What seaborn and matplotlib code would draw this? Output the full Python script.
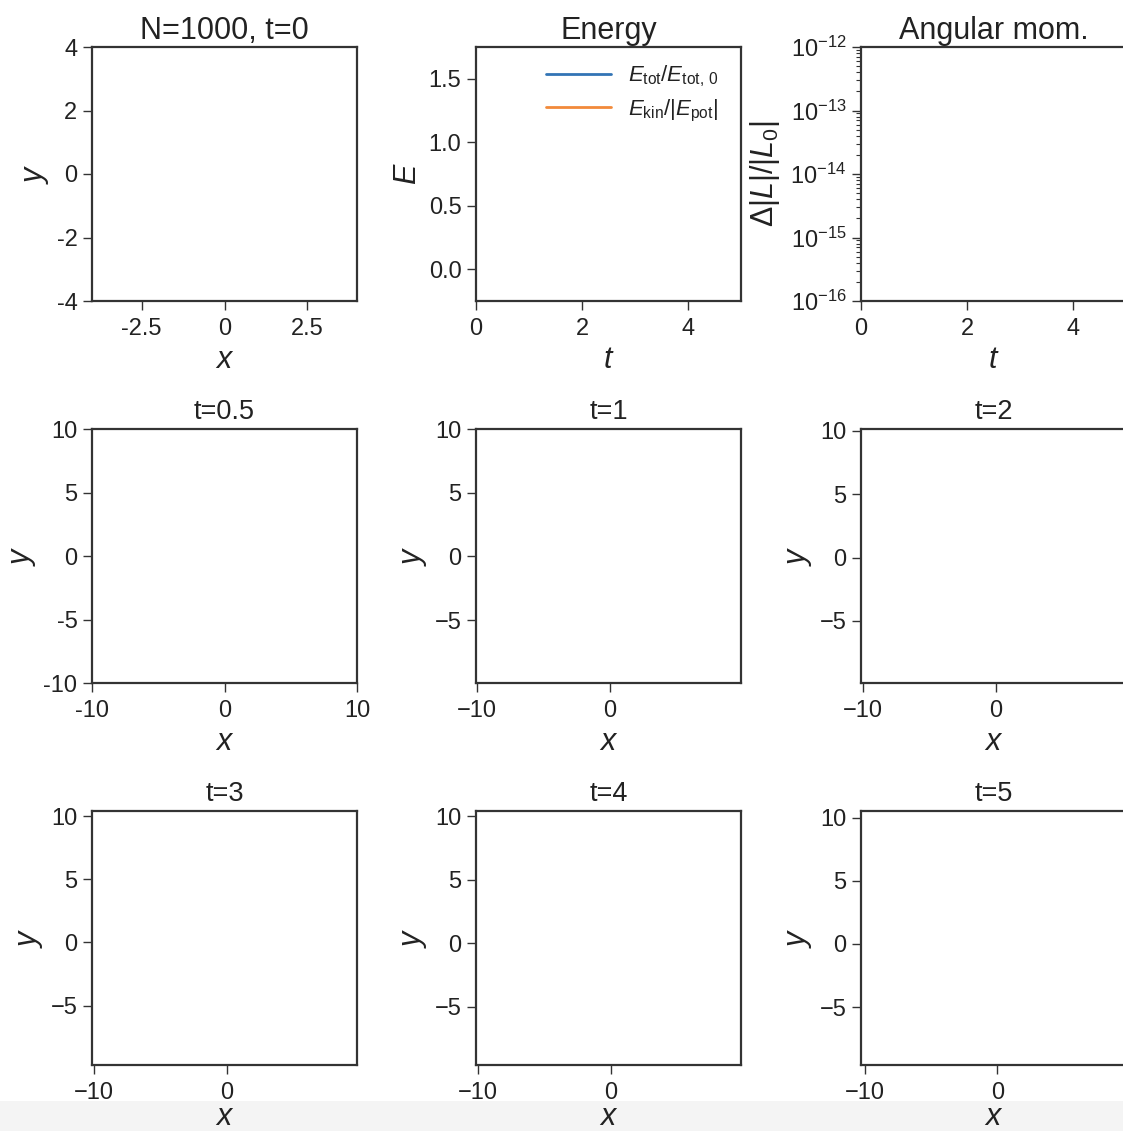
import matplotlib
matplotlib.use("Agg")
import matplotlib.pyplot as plt
from matplotlib.ticker import (MultipleLocator, FixedLocator, FixedFormatter,
                               LogFormatterSciNotation, NullFormatter)
from matplotlib.patches import Rectangle
import seaborn as sns

# panel titles
titulos = ["N=1000, t=0", "Energy", "Angular mom.",
           "t=0.5", "t=1", "t=2",
           "t=3", "t=4", "t=5"]

# energy curves (nothing visible in the picture)
t_energia = []
e_tot = []
e_kin = []
leg_energia = [r"$E_{\rm tot}/E_{\rm tot,\,0}$", r"$E_{\rm kin}/|E_{\rm pot}|$"]
cores = ["#3274b5", "#f28a3a"]

# axis limits
lim_x = [(-4, 4), (0, 5), (0, 5),
         (-10, 10), (-10.1, 9.85), (-10.15, 9.8),
         (-10.15, 9.8), (-10.15, 9.75), (-10.3, 9.7)]
lim_y = [(-4, 4), (-0.25, 1.75), (1e-16, 1e-12),
         (-10, 10), (-9.95, 10.02), (-9.9, 10.15),
         (-9.7, 10.4), (-9.6, 10.4), (-9.6, 10.55)]

# first column labels use a plain hyphen
ticks_x0 = [-2.5, 0, 2.5]
rot_x0 = ["-2.5", "0", "2.5"]
ticks_y0 = [-4, -2, 0, 2, 4]
rot_y0 = ["-4", "-2", "0", "2", "4"]
ticks_10 = [-10, 0, 10]
rot_10 = ["-10", "0", "10"]
decadas = [1e-16, 1e-15, 1e-14, 1e-13, 1e-12]

sns.set_theme(style="ticks")
plt.rcParams["font.family"] = ["Liberation Sans", "DejaVu Sans"]
plt.rcParams.update({
    "mathtext.fontset": "custom",
    "mathtext.rm": "Liberation Sans",
    "mathtext.it": "Liberation Sans:italic",
    "mathtext.bf": "Liberation Sans:bold",
    "text.color": "#222222",
    "axes.labelcolor": "#222222",
    "xtick.color": "#333333",
    "ytick.color": "#333333",
    "xtick.labelcolor": "#222222",
    "ytick.labelcolor": "#222222",
    "axes.edgecolor": "#333333",
    "axes.linewidth": 1.6,
    "xtick.major.size": 6.5,
    "ytick.major.size": 6.5,
    "xtick.major.width": 1.0,
    "ytick.major.width": 1.0,
    "xtick.major.pad": 5.5,
    "ytick.major.pad": 4,
    "xtick.labelsize": 17,
    "ytick.labelsize": 17,
})

W, H = 1123, 1131
fig = plt.figure(figsize=(W / 100, H / 100), dpi=100)
fig.patches.append(Rectangle((0, 0), 1, 30 / H, transform=fig.transFigure,
                             facecolor="#f4f4f4", edgecolor="none", zorder=-10))

esquerdas = [92, 476, 861]
topos = [47, 429, 811]
larg, alt = 265, 254

eixos = []
for i in range(9):
    lin, col = divmod(i, 3)
    ax = fig.add_axes([esquerdas[col] / W, 1 - (topos[lin] + alt) / H, larg / W, alt / H])
    eixos.append(ax)

for i, ax in enumerate(eixos):
    lin, col = divmod(i, 3)
    for s in ["top", "right"]:
        ax.spines[s].set_visible(True)
    if lin == 0:
        ax.set_title(titulos[i], fontsize=22, pad=6)
    else:
        ax.set_title(titulos[i], fontsize=19.5, pad=7)
    pad_x = -1 if lin == 2 else 4

    if i == 1:
        ax.plot(t_energia, e_tot, color=cores[0], lw=2, label=leg_energia[0])
        ax.plot(t_energia, e_kin, color=cores[1], lw=2, label=leg_energia[1])
        ax.legend(frameon=False, loc="upper right", fontsize=16, handlelength=2.9,
                  borderaxespad=0.2, labelspacing=0.4, handletextpad=0.8,
                  bbox_to_anchor=(0.966, 0.988))
        ax.xaxis.set_major_locator(MultipleLocator(2))
        ax.yaxis.set_major_locator(MultipleLocator(0.5))
        ax.set_xlabel("$t$", fontsize=22, labelpad=pad_x)
        ax.set_ylabel("$E$", fontsize=22)
    elif i == 2:
        ax.set_yscale("log")
        ax.xaxis.set_major_locator(MultipleLocator(2))
        ax.yaxis.set_major_locator(FixedLocator(decadas))
        ax.yaxis.set_major_formatter(LogFormatterSciNotation())
        menores = [k * d for d in decadas[:-1] for k in range(2, 10)]
        ax.yaxis.set_minor_locator(FixedLocator(menores))
        ax.yaxis.set_minor_formatter(NullFormatter())
        ax.tick_params(axis="y", which="minor", length=3.5, width=0.8)
        ax.set_xlabel("$t$", fontsize=22, labelpad=pad_x)
        ax.set_ylabel(r"$\Delta|L|/|L_0|$", fontsize=22, labelpad=6)
    else:
        if i == 0:
            ax.xaxis.set_major_locator(FixedLocator(ticks_x0))
            ax.xaxis.set_major_formatter(FixedFormatter(rot_x0))
            ax.yaxis.set_major_locator(FixedLocator(ticks_y0))
            ax.yaxis.set_major_formatter(FixedFormatter(rot_y0))
        elif i == 3:
            ax.xaxis.set_major_locator(FixedLocator(ticks_10))
            ax.xaxis.set_major_formatter(FixedFormatter(rot_10))
            ax.yaxis.set_major_locator(FixedLocator([-10, -5, 0, 5, 10]))
            ax.yaxis.set_major_formatter(FixedFormatter(["-10", "-5", "0", "5", "10"]))
        else:
            ax.xaxis.set_major_locator(MultipleLocator(10))
            ax.yaxis.set_major_locator(MultipleLocator(5))
        ax.set_xlabel("$x$", fontsize=22, labelpad=pad_x)
        ax.set_ylabel("$y$", fontsize=22)
    ax.set_xlim(*lim_x[i])
    ax.set_ylim(*lim_y[i])

plt.savefig("out.png", dpi=100)
